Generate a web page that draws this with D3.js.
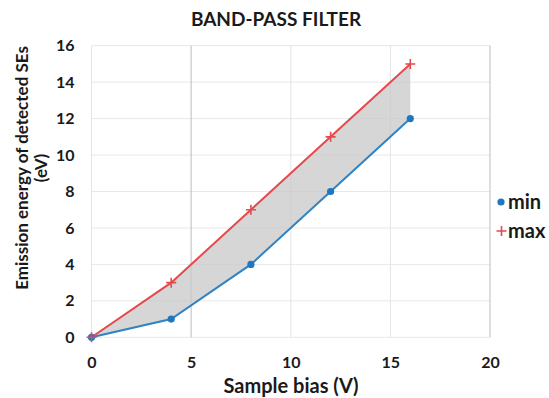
<!DOCTYPE html>
<html lang="en">
<head>
  <meta charset="utf-8">
  <title>Band-pass filter</title>
  <script src="https://cdn.jsdelivr.net/npm/d3@7"></script>
  <style>
    body { margin: 0; background: #fff; }
    text { font-family: Lato, "Open Sans", sans-serif; font-weight: bold; fill: #1a1a1a; }
  </style>
</head>
<body>
<script>
// chart data
var bias = [0, 4, 8, 12, 16];
var minEnergy = [0, 1, 4, 8, 12];
var maxEnergy = [0, 3, 7, 11, 15];
var xTicks = [0, 5, 10, 15, 20];
var yTicks = [0, 2, 4, 6, 8, 10, 12, 14, 16];

var width = 549, height = 398;

var svg = d3.select('body').append('svg')
  .attr('width', width)
  .attr('height', height);

var x = d3.scaleLinear().domain([0, 20]).range([91.5, 490]);
var y = d3.scaleLinear().domain([0, 16]).range([337.3, 45.7]);

var pts = bias.map(function(b, i) { return { x: b, lo: minEnergy[i], hi: maxEnergy[i] }; });

// gridlines
var grid = svg.append('g');
grid.selectAll('line.h').data(yTicks).enter().append('line')
  .attr('x1', x(0)).attr('x2', x(20))
  .attr('y1', function(d) { return y(d); }).attr('y2', function(d) { return y(d); })
  .attr('stroke', '#e8e8e8').attr('stroke-width', 1);
grid.selectAll('line.v').data(xTicks).enter().append('line')
  .attr('y1', y(0)).attr('y2', y(16))
  .attr('x1', function(d) { return x(d); }).attr('x2', function(d) { return x(d); })
  .attr('stroke', function(d) { return (d === 5 || d === 20) ? '#bdbdbd' : '#e4e4e4'; })
  .attr('stroke-width', 1);

// shaded band between min and max
var area = d3.area()
  .x(function(d) { return x(d.x); })
  .y0(function(d) { return y(d.lo); })
  .y1(function(d) { return y(d.hi); });
svg.append('path').datum(pts)
  .attr('d', area)
  .attr('fill', '#c8c8c8')
  .attr('fill-opacity', 0.75);

var lineLo = d3.line().x(function(d) { return x(d.x); }).y(function(d) { return y(d.lo); });
var lineHi = d3.line().x(function(d) { return x(d.x); }).y(function(d) { return y(d.hi); });

svg.append('path').datum(pts).attr('d', lineLo)
  .attr('fill', 'none').attr('stroke', '#2e83c6').attr('stroke-width', 2);
svg.append('path').datum(pts).attr('d', lineHi)
  .attr('fill', 'none').attr('stroke', '#e5484d').attr('stroke-width', 2);

// markers
svg.selectAll('circle.min').data(pts).enter().append('circle')
  .attr('cx', function(d) { return x(d.x); })
  .attr('cy', function(d) { return y(d.lo); })
  .attr('r', 3.6)
  .attr('fill', '#1f77c0');

function cross(g, cx, cy) {
  g.append('path')
    .attr('d', 'M' + (cx - 5) + ',' + cy + 'H' + (cx + 5) + 'M' + cx + ',' + (cy - 5) + 'V' + (cy + 5))
    .attr('stroke', '#e5484d').attr('stroke-width', 1.6).attr('fill', 'none');
}
var marks = svg.append('g');
pts.forEach(function(d) { cross(marks, x(d.x), y(d.hi)); });

// axes (labels only)
var xAxis = svg.append('g')
  .attr('transform', 'translate(0,' + (y(0) + 13) + ')')
  .call(d3.axisBottom(x).tickValues(xTicks).tickSize(0).tickPadding(6));
xAxis.select('.domain').remove();
xAxis.selectAll('text').style('font-size', '16px').attr('fill', '#1a1a1a');

var yAxis = svg.append('g')
  .attr('transform', 'translate(' + (x(0) - 15) + ',0)')
  .call(d3.axisLeft(y).tickValues(yTicks).tickSize(0).tickPadding(2));
yAxis.select('.domain').remove();
yAxis.selectAll('text').style('font-size', '16px').attr('fill', '#1a1a1a');

// titles
svg.append('text')
  .attr('x', 276).attr('y', 26)
  .attr('text-anchor', 'middle')
  .style('font-size', '19px')
  .text('BAND-PASS FILTER');

svg.append('text')
  .attr('x', 291).attr('y', 393)
  .attr('text-anchor', 'middle')
  .style('font-size', '20px')
  .text('Sample bias (V)');

var yt = svg.append('text')
  .attr('transform', 'translate(28,168) rotate(-90)')
  .attr('text-anchor', 'middle')
  .style('font-size', '17px');
yt.append('tspan').attr('x', 0).attr('y', 0).text('Emission energy of detected SEs');
yt.append('tspan').attr('x', 0).attr('y', 19).text('(eV)');

// legend
var leg = svg.append('g');
leg.append('circle').attr('cx', 501).attr('cy', 202).attr('r', 3.6).attr('fill', '#1f77c0');
leg.append('text').attr('x', 508).attr('y', 209).style('font-size', '20px').text('min');
cross(leg, 501.5, 231);
leg.append('text').attr('x', 508).attr('y', 238).style('font-size', '20px').text('max');
</script>
</body>
</html>
